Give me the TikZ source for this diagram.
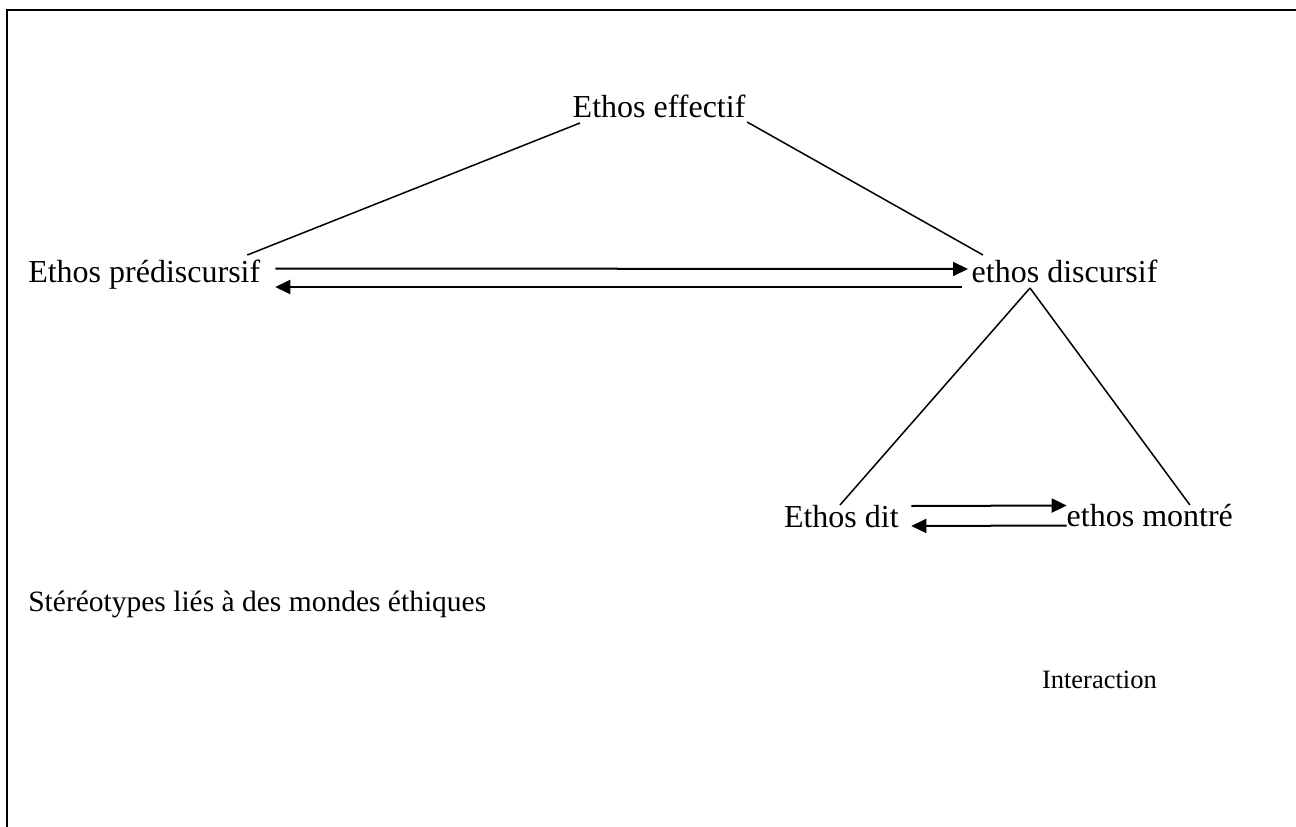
\documentclass[tikz,border=0pt]{standalone}
\usepackage{fontspec}
\setmainfont{Liberation Serif}
\usetikzlibrary{arrows.meta}

\tikzset{
  label/.style={inner sep=0pt, outer sep=0pt, anchor=base west,
    font=\fontsize{32}{38}\selectfont},
  midlabel/.style={inner sep=0pt, outer sep=0pt, anchor=base west,
    font=\fontsize{29.5}{35}\selectfont},
  smalllabel/.style={inner sep=0pt, outer sep=0pt, anchor=base west,
    font=\fontsize{26.5}{32}\selectfont},
  link/.style={line width=1.5pt},
  flow/.style={line width=2pt, -{Triangle[length=15pt,width=14pt]}},
  frame/.style={line width=2.5pt}
}

\begin{document}
\begin{tikzpicture}[x=1pt,y=-1pt]
  \useasboundingbox (0,0) rectangle (1296,827);

  % open frame: top and left edges only
  \coordinate (frameTR) at (1310,10);
  \coordinate (frameTL) at (7,10);
  \coordinate (frameBL) at (7,840);
  \draw[frame, line join=miter] (frameTR) -- (frameTL) -- (frameBL);

  % labels
  \node[label] (eff) at (572.7,117.3) {Ethos effectif};
  \node[label] (pre) at (28.3,282) {Ethos prédiscursif};
  \node[label] (dis) at (971.7,282) {ethos discursif};
  \node[label] (dit) at (784,527) {Ethos dit};
  \node[label] (mon) at (1066.7,526) {ethos montré};
  \node[midlabel] (ste) at (28.3,611) {Stéréotypes liés à des mondes éthiques};
  \node[smalllabel] (int) at (1042,688) {Interaction};

  % upper triangle
  \draw[link] ([shift={(7.3,5.7)}]eff.base west) -- ([shift={(-13,-27)}]pre.base east);
  \draw[link] ([shift={(1.7,4.7)}]eff.base east) -- ([shift={(11.3,-27)}]dis.base west);

  % lower triangle
  \draw[link] ([shift={(58.3,6)}]dis.base west) -- ([shift={(56,-22)}]dit.base west);
  \draw[link] ([shift={(58.3,6)}]dis.base west) -- ([shift={(-43,-21)}]mon.base east);

  % exchanges between the two ethos levels
  \draw[flow] ([shift={(15,-13.5)}]pre.base east) -- ([shift={(-3.7,-13)}]dis.base west);
  \draw[flow] ([shift={(-10,5)}]dis.base west) -- ([shift={(15,5)}]pre.base east);

  \draw[flow] ([shift={(12.6,-21)}]dit.base east) -- ([shift={(0,-20.5)}]mon.base west);
  \draw[flow] ([shift={(0,-0.5)}]mon.base west) -- ([shift={(12.6,-1)}]dit.base east);
\end{tikzpicture}
\end{document}
